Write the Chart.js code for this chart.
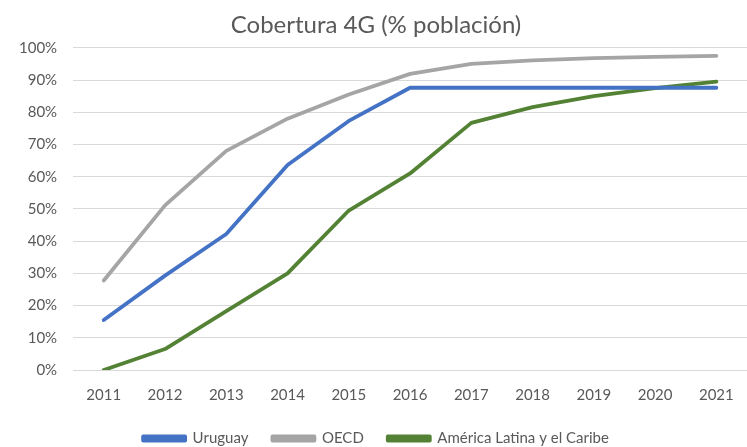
<!DOCTYPE html>
<html>
<head>
<meta charset="utf-8">
<script src="https://cdn.jsdelivr.net/npm/chart.js@4"></script>
<style>
  html, body { margin: 0; padding: 0; background: #fff; }
  #wrap { width: 747px; height: 447px; }
</style>
</head>
<body>
<div id="wrap"><canvas id="chart" width="747" height="447"></canvas></div>
<script>
// Cobertura 4G
const years = ['2011', '2012', '2013', '2014', '2015', '2016', '2017', '2018', '2019', '2020', '2021'];
const uruguay = [15.5, 29.3, 42.2, 63.6, 77.3, 87.6, 87.6, 87.6, 87.6, 87.6, 87.6];
const oecd = [27.8, 51.1, 68.0, 78.0, 85.5, 91.9, 95.0, 96.1, 96.8, 97.2, 97.5];
const latam = [0, 6.5, 18.3, 30.0, 49.5, 61.0, 76.7, 81.6, 85.0, 87.5, 89.5];

const FONT = "'Lato', sans-serif";
const GREY = '#595959';

function serie(label, data, color) {
  return {
    label: label,
    data: data,
    borderColor: color,
    backgroundColor: color,
    borderWidth: 3.8,
    pointRadius: 0,
    tension: 0,
    borderCapStyle: 'round',
    borderJoinStyle: 'round'
  };
}

const ctx = document.getElementById('chart').getContext('2d');
new Chart(ctx, {
  type: 'line',
  data: {
    labels: years,
    datasets: [
      serie('Uruguay', uruguay, '#4472C4'),
      serie('OECD', oecd, '#A5A5A5'),
      serie('América Latina y el Caribe', latam, '#548235')
    ]
  },
  options: {
    responsive: false,
    animation: false,
    layout: { padding: { top: 11, right: -2, left: 3, bottom: -9 } },
    plugins: {
      title: {
        display: true,
        text: 'Cobertura 4G (% población)',
        color: GREY,
        font: { family: FONT, size: 24, weight: 'normal' },
        padding: { top: 0, bottom: 8 }
      },
      legend: {
        position: 'bottom',
        labels: {
          color: GREY,
          font: { family: FONT, size: 15 },
          boxWidth: 42,
          boxHeight: 4,
          padding: 24
        }
      },
      tooltip: { enabled: false }
    },
    scales: {
      x: {
        offset: true,
        grid: { display: false },
        border: { color: '#d9d9d9', width: 1 },
        ticks: { color: GREY, font: { family: FONT, size: 15 }, padding: 8 },
        // la leyenda queda un poco mas cerca de los años
        afterFit: scale => { scale.height -= 5; }
      },
      y: {
        min: 0,
        max: 100,
        grid: { color: '#d9d9d9', lineWidth: 1, drawTicks: false },
        border: { display: false },
        ticks: {
          stepSize: 10,
          color: GREY,
          font: { family: FONT, size: 15 },
          padding: 16,
          callback: v => v + '%'
        }
      }
    }
  }
});
</script>
</body>
</html>
